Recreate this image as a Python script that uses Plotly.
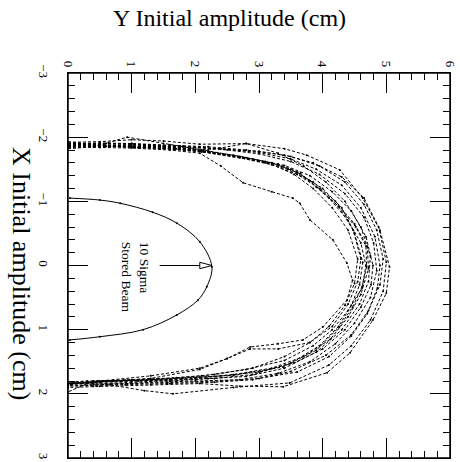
import plotly.graph_objects as go

# Solid "10 sigma stored beam" ellipse (Y amplitude, X amplitude)
beam_y = [0.03, 0.5, 0.82, 1.33, 1.71, 2.07, 2.26, 2.18, 2.04, 1.71, 1.18, 0.5, 0.03]
beam_x = [-1.05, -1.02, -0.97, -0.83, -0.66, -0.37, 0.02, 0.33, 0.54, 0.77, 1.0, 1.11, 1.16]

# Dynamic aperture tracking runs (dashed)
runA_y = [0, 0.5, 1.0, 1.5, 2.1, 2.9, 3.3, 3.65, 3.9, 4.25, 4.52, 4.68, 4.69, 4.62, 4.47, 4.26, 3.9, 3.38, 2.6, 2.07, 1.3, 0.5, 0]
runA_x = [-1.88, -1.86, -1.85, -1.83, -1.77, -1.64, -1.58, -1.44, -1.22, -0.92, -0.6, -0.3, 0.02, 0.33, 0.65, 0.96, 1.32, 1.58, 1.71, 1.74, 1.78, 1.81, 1.83]
runB_y = [0, 0.5, 1.0, 1.5, 2.07, 2.8, 3.4, 3.75, 4.27, 4.63, 4.9, 5.05, 5.0, 4.79, 4.43, 4.07, 3.38, 2.7, 2.07, 1.3, 0.5, 0]
runB_x = [-1.92, -1.93, -1.96, -1.94, -1.89, -1.9, -1.82, -1.72, -1.49, -1.05, -0.55, 0.02, 0.43, 0.85, 1.36, 1.67, 1.89, 1.88, 1.84, 1.86, 1.88, 1.9]
runC_y = [0, 0.5, 1.0, 1.6, 2.07, 2.4, 2.75, 3.2, 3.53, 3.64, 3.8, 4.16, 4.38, 4.47, 4.38, 4.0, 3.69, 3.3, 2.86, 2.5, 2.07, 1.3, 0.5, 0]
runC_x = [-1.85, -1.84, -1.83, -1.8, -1.75, -1.55, -1.29, -1.15, -1.05, -0.97, -0.71, -0.4, -0.04, 0.23, 0.54, 0.96, 1.16, 1.22, 1.27, 1.45, 1.6, 1.72, 1.8, 1.85]
runD_y = [0, 0.6, 1.2, 1.8, 2.4, 3.0, 3.5, 3.9, 4.3, 4.6, 4.82, 4.9, 4.86, 4.7, 4.45, 4.1, 3.6, 3.0, 2.4, 1.7, 1.0, 0.4, 0]
runD_x = [-1.9, -1.9, -1.88, -1.86, -1.82, -1.76, -1.66, -1.5, -1.25, -0.9, -0.45, 0.0, 0.35, 0.75, 1.1, 1.42, 1.66, 1.76, 1.8, 1.82, 1.84, 1.83, 1.85]
runE_y = [0, 0.5, 1.1, 1.7, 2.3, 2.9, 3.4, 3.8, 4.15, 4.45, 4.68, 4.79, 4.76, 4.6, 4.35, 4.0, 3.55, 3.0, 2.4, 1.8, 1.1, 0.5, 0]
runE_x = [-1.86, -1.88, -1.84, -1.82, -1.75, -1.66, -1.56, -1.4, -1.15, -0.85, -0.45, 0.0, 0.3, 0.65, 1.0, 1.3, 1.52, 1.66, 1.72, 1.76, 1.8, 1.82, 1.84]
runF_y = [0, 0.4, 0.93, 1.5, 2.1, 2.7, 3.2, 3.6, 4.0, 4.3, 4.5, 4.63, 4.58, 4.45, 4.25, 3.95, 3.5, 2.9, 2.3, 1.6, 0.9, 0.3, 0]
runF_x = [-1.82, -1.85, -2.0, -1.9, -1.8, -1.7, -1.6, -1.45, -1.2, -0.9, -0.5, -0.05, 0.3, 0.62, 0.95, 1.25, 1.52, 1.7, 1.76, 1.8, 1.79, 1.8, 1.82]
runG_y = [0, 0.5, 1.0, 1.6, 2.2, 2.8, 3.4, 3.85, 4.3, 4.65, 4.88, 5.0, 4.95, 4.75, 4.45, 4.1, 3.48, 2.6, 1.65, 1.2, 0.66, 0.3, 0]
runG_x = [-1.9, -1.91, -1.9, -1.88, -1.85, -1.8, -1.72, -1.6, -1.38, -1.05, -0.6, -0.05, 0.4, 0.85, 1.25, 1.55, 1.83, 1.9, 2.0, 1.95, 1.86, 1.84, 1.83]
runH_y = [0, 0.5, 1.0, 1.5, 2.07, 2.6, 3.1, 3.5, 3.85, 4.2, 4.5, 4.7, 4.72, 4.6, 4.4, 4.12, 3.7, 3.2, 2.6, 2.0, 1.3, 0.6, 0]
runH_x = [-1.93, -1.87, -1.84, -1.82, -1.78, -1.72, -1.62, -1.5, -1.3, -1.0, -0.65, -0.3, 0.05, 0.45, 0.8, 1.15, 1.42, 1.6, 1.7, 1.76, 1.79, 1.8, 1.86]
runI_y = [0, 0.5, 1.0, 1.6, 2.2, 2.8, 3.2, 3.55, 3.85, 4.15, 4.4, 4.55, 4.5, 4.35, 4.1, 3.8, 3.4, 2.9, 2.3, 1.7, 1.0, 0.4, 0]
runI_x = [-1.87, -1.85, -1.86, -1.84, -1.78, -1.68, -1.58, -1.42, -1.2, -0.9, -0.55, -0.1, 0.28, 0.62, 0.95, 1.2, 1.42, 1.6, 1.7, 1.75, 1.78, 1.8, 1.97]
runJ_y = [0, 0.5, 1.0, 1.5, 2.0, 2.5, 3.0, 3.5, 3.95, 4.35, 4.65, 4.8, 4.85, 4.75, 4.5, 4.2, 3.8, 3.3, 2.7, 2.0, 1.3, 0.6, 0]
runJ_x = [-1.89, -1.9, -1.89, -1.87, -1.84, -1.8, -1.74, -1.62, -1.42, -1.12, -0.75, -0.35, 0.08, 0.5, 0.9, 1.22, 1.5, 1.68, 1.78, 1.8, 1.82, 1.86, 1.87]
runK_y = [0, 0.6, 1.2, 1.8, 2.4, 3.0, 3.5, 3.95, 4.35, 4.65, 4.85, 4.95, 4.9, 4.72, 4.45, 4.05, 3.5, 2.9, 2.3, 1.6, 0.9, 0.4, 0]
runK_x = [-1.84, -1.86, -1.87, -1.85, -1.82, -1.78, -1.7, -1.55, -1.3, -0.95, -0.55, -0.1, 0.3, 0.7, 1.08, 1.4, 1.65, 1.78, 1.82, 1.84, 1.86, 1.88, 1.88]
runL_y = [0, 0.5, 1.0, 1.5, 2.0, 2.6, 3.1, 3.45, 3.8, 4.1, 4.4, 4.6, 4.68, 4.62, 4.4, 4.15, 3.85, 3.4, 2.8, 2.1, 1.4, 0.7, 0]
runL_x = [-1.88, -1.89, -1.9, -1.86, -1.8, -1.7, -1.6, -1.5, -1.32, -1.05, -0.7, -0.35, 0.0, 0.35, 0.7, 1.0, 1.25, 1.48, 1.62, 1.72, 1.77, 1.8, 1.82]
runM_y = [0, 0.5, 1.0, 1.6, 2.2, 2.8, 3.3, 3.7, 4.05, 4.35, 4.6, 4.75, 4.72, 4.58, 4.3, 3.9, 3.4, 2.8, 2.2, 1.6, 1.0, 0.4, 0]
runM_x = [-1.9, -1.88, -1.86, -1.85, -1.8, -1.9, -1.75, -1.55, -1.3, -1.0, -0.6, -0.15, 0.25, 0.6, 1.0, 1.35, 1.6, 1.73, 1.76, 1.78, 1.81, 1.85, 1.84]
runN_y = [0, 0.5, 1.0, 1.5, 2.1, 2.7, 3.2, 3.6, 3.95, 4.25, 4.48, 4.6, 4.55, 4.4, 4.15, 3.8, 3.3, 2.86, 2.5, 2.07, 1.3, 0.6, 0]
runN_x = [-1.86, -1.87, -1.86, -1.84, -1.79, -1.68, -1.57, -1.42, -1.2, -0.92, -0.55, -0.1, 0.25, 0.6, 0.95, 1.2, 1.3, 1.3, 1.45, 1.62, 1.76, 1.8, 1.84]

runs = [(runA_y, runA_x), (runB_y, runB_x), (runC_y, runC_x), (runD_y, runD_x),
        (runE_y, runE_x), (runF_y, runF_x), (runG_y, runG_x), (runH_y, runH_x),
        (runI_y, runI_x), (runJ_y, runJ_x), (runK_y, runK_x), (runL_y, runL_x),
        (runM_y, runM_x), (runN_y, runN_x)]

# Arrow for the annotation (Y from, Y head base, Y tip, half width in X)
arrow_y_start = 1.44
arrow_y_base = 2.07
arrow_y_tip = 2.26
arrow_half = 0.05

serif = "Liberation Serif"

W, H = 460, 462
ml, mr, mt, mb = 68, 10, 73, 4
pw, ph = W - ml - mr, H - mt - mb

fig = go.Figure()
for ry, rx in runs:
    fig.add_trace(go.Scatter(
        x=ry, y=rx, mode="lines+markers",
        line=dict(color="black", width=1, dash="3px,2px"),
        marker=dict(color="black", size=2),
        showlegend=False, hoverinfo="skip"))

fig.add_trace(go.Scatter(
    x=beam_y, y=beam_x, mode="lines+markers",
    line=dict(color="black", width=1, shape="spline", smoothing=1.0),
    marker=dict(color="black", size=2),
    showlegend=False, hoverinfo="skip"))

fig.add_shape(type="line", x0=arrow_y_start, y0=0, x1=arrow_y_base, y1=0,
              xref="x", yref="y", line=dict(color="black", width=1))
fig.add_shape(type="path",
              path=f"M {arrow_y_base},{-arrow_half} L {arrow_y_tip},0 L {arrow_y_base},{arrow_half} Z",
              xref="x", yref="y", line=dict(color="black", width=1), fillcolor="white")
# plot frame
fig.add_shape(type="rect", x0=0, y0=0, x1=1, y1=1, xref="paper", yref="paper",
              line=dict(color="black", width=1.5), fillcolor="rgba(0,0,0,0)", layer="above")

fig.add_annotation(x=1.05, y=0.19, xref="x", yref="y",
                   text="10 Sigma<br>Stored Beam", showarrow=False,
                   textangle=90, align="left",
                   font=dict(family=serif, size=13.5, color="black"))

# Axis titles (placed in pixel terms via paper coordinates)
fig.add_annotation(x=(229 - ml) / pw, y=1 + (mt - 18) / ph, xref="paper", yref="paper",
                   text="Y Initial amplitude (cm)", showarrow=False,
                   xanchor="center", yanchor="middle",
                   font=dict(family=serif, size=24, color="black"))
fig.add_annotation(x=(22 - ml) / pw, y=(H - mb - 273) / ph, xref="paper", yref="paper",
                   text="X Initial amplitude (cm)", showarrow=False, textangle=90,
                   xanchor="center", yanchor="middle",
                   font=dict(family=serif, size=26, color="black"))

axis_common = dict(
    showline=True, linecolor="black", linewidth=1.3, mirror="ticks",
    ticks="inside", ticklen=20, tickwidth=1, tickcolor="black",
    showgrid=False, zeroline=False, tickangle=90, automargin=False,
    tickfont=dict(family=serif, size=13, color="black"),
    minor=dict(ticks="inside", ticklen=7, tickwidth=1, tickcolor="black", dtick=0.2, showgrid=False),
    dtick=1, fixedrange=True,
)

fig.update_layout(
    width=W, height=H,
    margin=dict(l=ml, r=mr, t=mt, b=mb, autoexpand=False),
    paper_bgcolor="white", plot_bgcolor="white",
    xaxis=dict(range=[0, 6], side="top", tick0=0, **axis_common),
    yaxis=dict(range=[3, -3], side="left", tick0=-3, ticklabelstandoff=12, **axis_common),
    showlegend=False,
)

fig.write_html("out.html", config={"displayModeBar": False},
               post_script="document.body.style.margin='0px';document.body.style.overflow='hidden';")
